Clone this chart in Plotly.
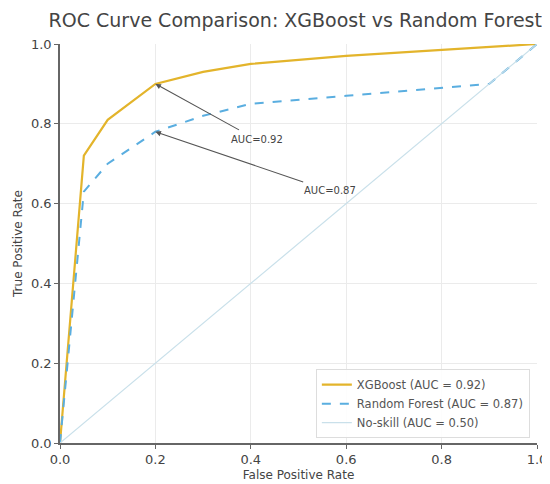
import plotly.graph_objects as go

fpr_xgb = [0.0, 0.05, 0.1, 0.2, 0.3, 0.4, 0.6, 0.8, 1.0]
tpr_xgb = [0.0, 0.72, 0.81, 0.90, 0.93, 0.95, 0.97, 0.985, 1.0]
fpr_rf = [0.0, 0.05, 0.1, 0.2, 0.3, 0.4, 0.6, 0.8, 0.9, 1.0]
tpr_rf = [0.0, 0.63, 0.70, 0.78, 0.82, 0.85, 0.87, 0.89, 0.90, 1.0]
fpr_ns = [0.0, 1.0]
tpr_ns = [0.0, 1.0]
names = ["XGBoost (AUC = 0.92)", "Random Forest (AUC = 0.87)", "No-skill (AUC = 0.50)"]
ann_text = ["AUC=0.92", "AUC=0.87"]
ann_point = [(0.2, 0.90), (0.2, 0.78)]
ann_pos = [(0.413, 0.76), (0.565, 0.632)]
ticks = [0.0, 0.2, 0.4, 0.6, 0.8, 1.0]
tick_labels = ["0.0", "0.2", "0.4", "0.6", "0.8", "1.0"]

fig = go.Figure()
fig.add_trace(go.Scatter(x=fpr_xgb, y=tpr_xgb, mode="lines", name=names[0],
                         line=dict(color="#e3b42b", width=2.2)))
fig.add_trace(go.Scatter(x=fpr_rf, y=tpr_rf, mode="lines", name=names[1],
                         line=dict(color="#5aaee0", width=2, dash="dash")))
fig.add_trace(go.Scatter(x=fpr_ns, y=tpr_ns, mode="lines", name=names[2],
                         line=dict(color="#c9e0ea", width=1.2)))

for t, (px, py), (tx, ty) in zip(ann_text, ann_point, ann_pos):
    fig.add_annotation(x=px, y=py, ax=tx, ay=ty, axref="x", ayref="y",
                       xref="x", yref="y", text=t, showarrow=True,
                       arrowhead=2, arrowsize=1, arrowwidth=1.1, arrowcolor="#555",
                       font=dict(size=10, color="#444", family="DejaVu Sans"),
                       standoff=0, startstandoff=6)

axis_common = dict(range=[0, 1.0], tickvals=ticks, ticktext=tick_labels,
                   showgrid=True, gridcolor="#ebebeb", gridwidth=1,
                   showline=True, linecolor="#666", linewidth=1.5,
                   ticks="outside", ticklen=4, tickcolor="#666",
                   zeroline=False, automargin=False,
                   tickfont=dict(size=13, color="#444"))

fig.update_layout(
    width=542, height=476,
    margin=dict(l=52, r=13, t=36, b=41),
    paper_bgcolor="white", plot_bgcolor="white",
    font=dict(family="DejaVu Sans", color="#444"),
    title=dict(text="ROC Curve Comparison: XGBoost vs Random Forest",
               x=0.53, xanchor="center", y=0.975, yanchor="middle",
               font=dict(size=19, color="#444")),
    xaxis=dict(**axis_common, title=dict(text="False Positive Rate", font=dict(size=12), standoff=4)),
    yaxis=dict(**axis_common, title=dict(text="True Positive Rate", font=dict(size=12), standoff=6)),
    legend=dict(x=0.985, y=0.012, xanchor="right", yanchor="bottom",
                bgcolor="rgba(255,255,255,0.9)", bordercolor="#ddd", borderwidth=1,
                font=dict(size=11.5, color="#555"), tracegroupgap=0),
    showlegend=True,
)

fig.write_html("out.html")
